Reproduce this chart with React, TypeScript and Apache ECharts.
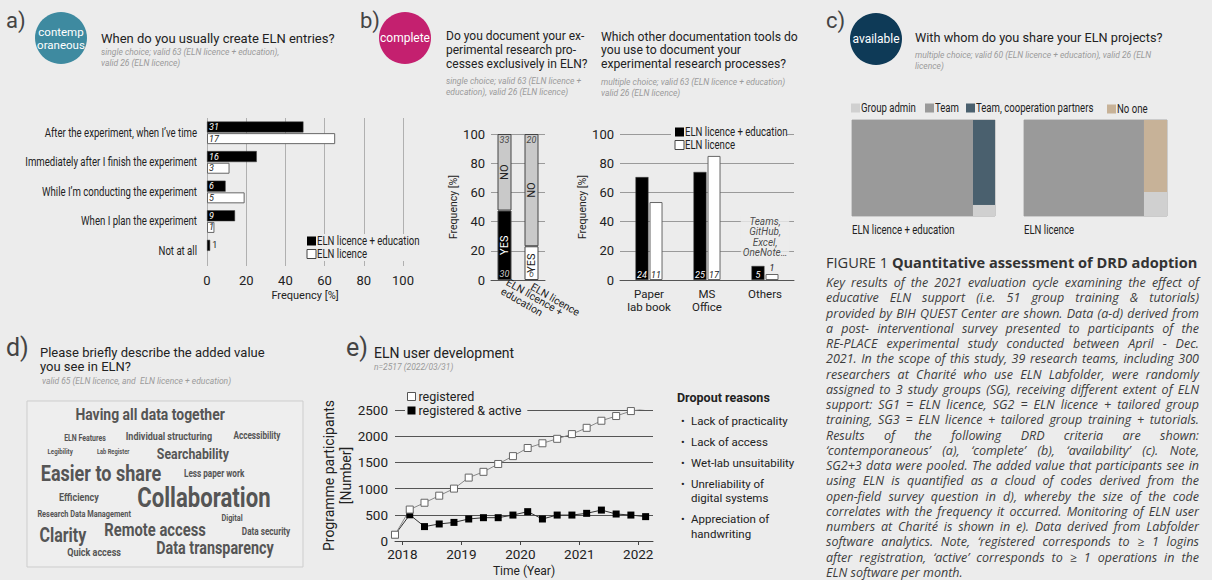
import React, { useEffect, useRef } from "react";
import * as echarts from "echarts";

const BG = "#ececec";
const SANS = "Roboto, 'Noto Sans', sans-serif";
const CAP = "'Open Sans'";
const COND = 0.8; // horizontal squeeze used to imitate the condensed face of the original

// ---------- a) contemporaneous ----------
const aCategories = [
  "After the experiment, when I\u2019ve time",
  "Immediately after I finish the experiment",
  "While I\u2019m conducting the experiment",
  "When I plan the experiment",
  "Not at all",
];
const aEduPct = [49.2, 25.4, 9.5, 14.3, 1.6];
const aEduN = [31, 16, 6, 9, 1];
const aLicPct = [65.4, 11.5, 19.2, 3.8, 0];
const aLicN = [17, 3, 5, 1, null];
const seriesNames = ["ELN licence + education", "ELN licence"];

// ---------- b) complete ----------
const b1Categories = ["ELN licence +\neducation", "ELN licence"];
const b1YesPct = [47.6, 23.1];
const b1NoPct = [52.4, 76.9];
const b1YesN = [30, 6];
const b1NoN = [33, 20];

const b2Categories = ["Paper\nlab book", "MS\nOffice", "Others"];
const b2EduPct = [70.5, 74.0, 9.6];
const b2EduN = [24, 25, 5];
const b2LicPct = [53.4, 85.0, 4.1];
const b2LicN = [11, 17, 1];
const b2OthersNote = "Teams,\nGitHub,\nExcel,\nOneNote\u2026";
const b2NoteValue = 29.5;

// ---------- c) available ----------
const cGroups = ["ELN licence + education", "ELN licence"];
const cTeamShare = [84.6, 83.9];
const cRestName = ["Team, cooperation partners", "No one"];
const cAdminShareOfRest = [11.5, 25];
const cLegend = ["Group admin", "Team", "Team, cooperation partners", "No one"];

// ---------- d) word cloud ----------
const dWords = [
  "Having all data together", "ELN Features", "Individual structuring", "Accessibility",
  "Legibility", "Lab Register", "Searchability", "Easier to share", "Less paper work",
  "Efficiency", "Collaboration", "Research Data Management", "Digital", "Clarity",
  "Remote access", "Data security", "Quick access", "Data transparency",
];
const dWeights = [17, 8.5, 11, 10, 7.5, 7, 15, 22, 10, 11, 27, 9, 9, 19.5, 18, 10, 11, 17.5];
const dLayoutX = [44.6, 21, 51.4, 83.3, 12, 31.2, 60.1, 26.8, 67.8, 18.8, 64.1, 20.7, 74.3, 13, 46.4, 86.6, 24.3, 68.1];
const dLayoutY = [91.6, 77.7, 78.9, 78.9, 69.3, 69.3, 68.1, 56.6, 56, 42.2, 41.6, 31.9, 29.5, 19.3, 22.3, 21.1, 9, 11.4];

// ---------- e) user development ----------
const eMonths = [
  "2017-11", "2018-02", "2018-05", "2018-08", "2018-11", "2019-02", "2019-05", "2019-08", "2019-11",
  "2020-02", "2020-05", "2020-08", "2020-11", "2021-02", "2021-05", "2021-08", "2021-11", "2022-02",
];
const eRegistered = [120, 600, 730, 865, 1000, 1210, 1320, 1470, 1620, 1775, 1865, 1950, 2040, 2160, 2295, 2385, 2480, 2530];
const eActive = [120, 500, 275, 325, 355, 420, 445, 445, 495, 560, 420, 495, 495, 528, 590, 515, 495, 465];
const eYears = [2018, 2019, 2020, 2021, 2022];
const eDropout = ["Lack of practicality", "Lack of access", "Wet-lab unsuitability", "Unreliability of\ndigital systems", "Appreciation of\nhandwriting"];

const captionLines = [
  "Key results of the 2021 evaluation cycle examining the effect of",
  "educative ELN support (i.e. 51 group training & tutorials)",
  "provided by BIH QUEST Center are shown. Data (a-d) derived from",
  "a post- interventional survey presented to participants of the",
  "RE-PLACE experimental study conducted between April - Dec.",
  "2021. In the scope of this study, 39 research teams, including 300",
  "researchers at Charit\u00e9 who use ELN Labfolder, were randomly",
  "assigned to 3 study groups (SG), receiving different extent of ELN",
  "support: SG1 = ELN licence, SG2 = ELN licence + tailored group",
  "training, SG3 = ELN licence + tailored group training + tutorials.",
  "Results of the following DRD criteria are shown:",
  "\u2018contemporaneous\u2019 (a), \u2018complete\u2019 (b), \u2018availability\u2019 (c). Note,",
  "SG2+3 data were pooled. The added value that participants see in",
  "using ELN is quantified as a cloud of codes derived from the",
  "open-field survey question in d), whereby the size of the code",
  "correlates with the frequency it occurred. Monitoring of ELN user",
  "numbers at Charit\u00e9 is shown in e). Data derived from Labfolder",
  "software analytics. Note, \u2018registered corresponds to \u2265 1 logins",
  "after registration, \u2018active\u2019 corresponds to \u2265 1 operations in the",
  "ELN software per month.",
];

const cColors: Record<string, string> = {
  "Group admin": "#d0d0d0",
  Team: "#9a9a9a",
  "Team, cooperation partners": "#4a606e",
  "No one": "#c7b298",
};

const toYear = (m: string) => {
  const [y, mo] = m.split("-").map(Number);
  return y + (mo - 0.5) / 12;
};

const txt = (x: number, y: number, text: string, o: any = {}) => ({
  type: "text",
  x,
  y,
  silent: true,
  style: { text, fontFamily: SANS, fontSize: 13, fill: "#222", textVerticalAlign: "middle", ...o },
});
const ctxt = (x: number, y: number, text: string, o: any = {}) => ({ ...txt(x, y, text, { fontSize: 12, ...o }), scaleX: COND });
const swatch = (x: number, y: number, fill: string, stroke?: string) => ({
  type: "rect",
  silent: true,
  shape: { x, y: y - 4.5, width: 9, height: 9 },
  style: { fill, stroke: stroke || fill, lineWidth: stroke ? 1 : 0 },
});

function captionElements() {
  const els: any[] = [];
  const left = 826, right = 1199, top = 282.5, lh = 15.25;
  const ctx = document.createElement("canvas").getContext("2d")!;
  let size = 12.5;
  ctx.font = `italic ${size}px ${CAP}`;
  let maxW = 0;
  captionLines.slice(0, -1).forEach((l) => {
    maxW = Math.max(maxW, ctx.measureText(l).width);
  });
  if (maxW > right - left) size = (size * (right - left)) / maxW;
  ctx.font = `italic ${size}px ${CAP}`;
  const style = { fontFamily: CAP, fontSize: size, fontStyle: "italic", fill: "#3c3c3c", textVerticalAlign: "middle" };
  captionLines.forEach((line, i) => {
    const y = top + i * lh;
    if (i === captionLines.length - 1) {
      els.push({ type: "text", x: left, y, silent: true, style: { ...style, text: line } });
      return;
    }
    const words = line.split(" ").filter(Boolean);
    const widths = words.map((w) => ctx.measureText(w).width);
    const gap = (right - left - widths.reduce((a, b) => a + b, 0)) / (words.length - 1);
    let x = left;
    words.forEach((w, j) => {
      els.push({ type: "text", x, y, silent: true, style: { ...style, text: w } });
      x += widths[j] + gap;
    });
  });
  return els;
}

function rectRenderer(color: string) {
  return (params: any, api: any) => {
    const a = api.coord([api.value(0), api.value(3)]);
    const b = api.coord([api.value(1), api.value(2)]);
    return {
      type: "rect",
      shape: { x: a[0], y: a[1], width: b[0] - a[0], height: b[1] - a[1] },
      style: { fill: color },
    };
  };
}

function buildOption() {
  const hidden = (g: number) => ({ gridIndex: g, type: "value", min: 0, max: 100, show: false });
  const valueY = (g: number, name: string, gap: number) => ({
    gridIndex: g,
    type: "value",
    min: 0,
    max: 100,
    interval: 20,
    name,
    nameLocation: "middle",
    nameGap: gap,
    nameTextStyle: { fontFamily: SANS, fontSize: 10.5, color: "#222" },
    axisLine: { show: false },
    axisTick: { show: false },
    axisLabel: { fontFamily: SANS, fontSize: 13, color: "#222", margin: 6 },
    splitLine: { lineStyle: { color: "#9a9a9a", width: 1 } },
  });

  // c) custom rect series
  const cSeries: any[] = [];
  cGroups.forEach((g, gi) => {
    const t = cTeamShare[gi];
    const adm = cAdminShareOfRest[gi];
    const parts: [string, number[]][] = [
      ["Team", [0, t, 0, 100]],
      [cRestName[gi], [t, 100, adm, 100]],
      ["Group admin", [t, 100, 0, adm]],
    ];
    parts.forEach(([name, r]) => {
      cSeries.push({
        name,
        type: "custom",
        xAxisIndex: 3 + gi,
        yAxisIndex: 3 + gi,
        silent: true,
        itemStyle: { color: cColors[name] },
        renderItem: rectRenderer(cColors[name]),
        data: [r],
      });
    });
  });

  const blackItem = { color: "#000", borderColor: "#444", borderWidth: 0.5 };
  const whiteItem = { color: "#fff", borderColor: "#666", borderWidth: 1 };
  const countLabel = { fontFamily: SANS, fontSize: 9, fontStyle: "italic" };

  const graphics: any[] = [
    // a)
    txt(6, 20, "a)", { fontSize: 22, fill: "#444" }),
    { type: "circle", shape: { cx: 61, cy: 38, r: 26 }, style: { fill: "#3e8aa0" }, silent: true },
    txt(61, 38.5, "contemp\noraneous", { fontSize: 11.5, fill: "#fff", textAlign: "center", lineHeight: 13 }),
    txt(101, 38, "When do you usually create ELN entries?", { fontSize: 13 }),
    txt(101, 47, "single choice; valid 63 (ELN licence + education),\nvalid 26 (ELN licence)", {
      fontSize: 8.5, fontStyle: "italic", fill: "#9a9a9a", lineHeight: 10.5, textVerticalAlign: "top",
    }),
    { type: "rect", silent: true, shape: { x: 304, y: 234, width: 118, height: 27 }, style: { fill: BG } },
    swatch(307, 241, "#000"),
    ctxt(317, 241, seriesNames[0]),
    swatch(307, 254, "#fff", "#444"),
    ctxt(317, 254, seriesNames[1]),
    // b)
    txt(360, 20, "b)", { fontSize: 22, fill: "#444" }),
    { type: "circle", shape: { cx: 405, cy: 38, r: 26 }, style: { fill: "#c4206f" }, silent: true },
    txt(405, 38, "complete", { fontSize: 12, fill: "#fff", textAlign: "center" }),
    txt(446, 29, "Do you document your ex-\nperimental research pro-\ncesses exclusively in ELN?", {
      fontSize: 12, lineHeight: 14, textVerticalAlign: "top",
    }),
    txt(446, 75, "single choice; valid 63 (ELN licence +\neducation), valid 26 (ELN licence)", {
      fontSize: 8.5, fontStyle: "italic", fill: "#9a9a9a", lineHeight: 11.5, textVerticalAlign: "top",
    }),
    txt(601, 30, "Which other documentation tools do\nyou use to document your\nexperimental research processes?", {
      fontSize: 12.2, lineHeight: 13.5, textVerticalAlign: "top",
    }),
    txt(601, 76, "multiple choice; valid 63 (ELN licence + education)\nvalid 26 (ELN licence)", {
      fontSize: 8.5, fontStyle: "italic", fill: "#9a9a9a", lineHeight: 11, textVerticalAlign: "top",
    }),
    { type: "rect", silent: true, shape: { x: 671, y: 125, width: 116, height: 27 }, style: { fill: BG } },
    swatch(675, 132, "#000"),
    ctxt(685, 132, seriesNames[0]),
    swatch(675, 145, "#fff", "#444"),
    ctxt(685, 145, seriesNames[1]),
    // c)
    txt(826, 20, "c)", { fontSize: 22, fill: "#444" }),
    { type: "circle", shape: { cx: 876, cy: 39, r: 26 }, style: { fill: "#0e3a57" }, silent: true },
    txt(876, 39, "available", { fontSize: 12, fill: "#fff", textAlign: "center" }),
    txt(915, 37, "With whom do you share your ELN projects?", { fontSize: 12.7 }),
    txt(915, 49, "multiple choice; valid 60 (ELN licence + education), valid 26 (ELN\nlicence)", {
      fontSize: 8.5, fontStyle: "italic", fill: "#9a9a9a", lineHeight: 11, textVerticalAlign: "top",
    }),
    swatch(851, 108, cColors[cLegend[0]]),
    ctxt(861, 108, cLegend[0]),
    swatch(925, 108, cColors[cLegend[1]]),
    ctxt(935, 108, cLegend[1]),
    swatch(966, 108, cColors[cLegend[2]]),
    ctxt(976, 108, cLegend[2]),
    swatch(1107, 109, cColors[cLegend[3]]),
    ctxt(1117, 109, cLegend[3]),
    ctxt(852, 230, cGroups[0]),
    ctxt(1024, 230, cGroups[1]),
    // caption
    {
      type: "text",
      x: 826,
      y: 262,
      silent: true,
      style: {
        text: "{a|FIGURE 1 }{b|Quantitative assessment of DRD adoption}",
        textVerticalAlign: "middle",
        rich: {
          a: { fontFamily: CAP, fontSize: 14.6, fill: "#333" },
          b: { fontFamily: CAP, fontSize: 14.6, fontWeight: "bold", fill: "#333" },
        },
      },
    },
    ...captionElements(),
    // d)
    txt(6, 347, "d)", { fontSize: 25, fill: "#444" }),
    txt(40, 352, "Please briefly describe the added value", { fontSize: 13 }),
    txt(40, 366, "you see in ELN?", { fontSize: 13 }),
    txt(42, 381, "valid 65 (ELN licence, and  ELN licence + education)", {
      fontSize: 8.5, fontStyle: "italic", fill: "#9a9a9a",
    }),
    // e)
    txt(346, 347, "e)", { fontSize: 25, fill: "#444" }),
    txt(374, 353, "ELN user development", { fontSize: 14 }),
    txt(374, 367, "n=2517 (2022/03/31)", { fontSize: 8.5, fontStyle: "italic", fill: "#9a9a9a" }),
    txt(677, 397, "Dropout reasons", { fontSize: 12.5, fontWeight: "bold" }),
  ];
  let dy = 421;
  eDropout.forEach((d) => {
    graphics.push(txt(681, dy, "\u2022", { fontSize: 11 }));
    const t: any = txt(691, dy - 7.5, d, { fontSize: 11.5, lineHeight: 14.5, textVerticalAlign: "top" });
    graphics.push(t);
    dy += 21 + (d.split("\n").length - 1) * 14.5;
  });
  const graphicEls = graphics.map((e) => ({ z: 100, ...e }));

  return {
    animation: false,
    backgroundColor: BG,
    textStyle: { fontFamily: SANS },
    grid: [
      { left: 207, top: 118, width: 196, height: 148, outerBoundsMode: "none" },
      { left: 491, top: 134, width: 54, height: 146, outerBoundsMode: "none" },
      { left: 620, top: 134, width: 174, height: 146, outerBoundsMode: "none" },
      { left: 852, top: 120, width: 143, height: 96, show: true, borderColor: "#aaa", borderWidth: 1, backgroundColor: "transparent", outerBoundsMode: "none" },
      { left: 1024, top: 120, width: 143, height: 96, show: true, borderColor: "#aaa", borderWidth: 1, backgroundColor: "transparent", outerBoundsMode: "none" },
      { left: 27, top: 401, width: 276, height: 166, show: true, borderColor: "#cdcdcd", borderWidth: 1, backgroundColor: "#eeeeee", outerBoundsMode: "none" },
      { left: 395, top: 410, width: 258, height: 131, outerBoundsMode: "none" },
    ],
    xAxis: [
      {
        gridIndex: 0, type: "value", min: 0, max: 100, interval: 20,
        name: "Frequency [%]", nameLocation: "middle", nameGap: 24,
        nameTextStyle: { fontFamily: SANS, fontSize: 11, color: "#222" },
        axisLine: { show: false }, axisTick: { show: false },
        axisLabel: { fontFamily: SANS, fontSize: 13, color: "#222", margin: 8 },
        splitLine: { lineStyle: { color: "#b0b0b0" } },
      },
      {
        gridIndex: 1, type: "category", data: b1Categories,
        axisLine: { lineStyle: { color: "#555" } }, axisTick: { show: false },
        axisLabel: { interval: 0, rotate: -30, fontFamily: SANS, fontSize: 10.5, lineHeight: 10.5, color: "#222", margin: 6 },
      },
      {
        gridIndex: 2, type: "category", data: b2Categories,
        axisLine: { lineStyle: { color: "#555" } }, axisTick: { show: false },
        axisLabel: { interval: 0, fontFamily: SANS, fontSize: 11.5, lineHeight: 13, color: "#222", margin: 7 },
      },
      hidden(3),
      hidden(4),
      hidden(5),
      {
        gridIndex: 6, type: "value", min: toYear("2017-11"), max: 2022.25,
        name: "Time (Year)", nameLocation: "middle", nameGap: 24,
        nameTextStyle: { fontFamily: SANS, fontSize: 12, color: "#222" },
        axisLine: { lineStyle: { color: "#444" } },
        axisTick: { customValues: eYears, length: 4, lineStyle: { color: "#444" } },
        axisLabel: { customValues: eYears, formatter: (v: number) => String(Math.round(v)), fontFamily: SANS, fontSize: 13.5, color: "#222", margin: 6 },
        splitLine: { show: false },
      },
    ],
    yAxis: [
      {
        gridIndex: 0, type: "category", inverse: true, data: aCategories,
        axisLine: { show: false }, axisTick: { show: false },
        axisLabel: { show: false },
      },
      valueY(1, "Frequency [%]", 32),
      valueY(2, "Frequency [%]", 30),
      hidden(3),
      hidden(4),
      hidden(5),
      {
        gridIndex: 6, type: "value", min: 0, max: 2500, interval: 500,
        name: "Programme participants\n[Number]", nameLocation: "middle", nameGap: 37,
        nameTextStyle: { fontFamily: SANS, fontSize: 14, lineHeight: 16.5, color: "#222" },
        axisLine: { show: false }, axisTick: { show: false },
        axisLabel: { formatter: (v: number) => String(v), fontFamily: SANS, fontSize: 13.5, color: "#222", margin: 7 },
        splitLine: { lineStyle: { color: "#555", width: 1 } },
      },
    ],
    legend: [
      {
        left: 405, top: 390, orient: "vertical", itemGap: 1, itemWidth: 8, itemHeight: 8, icon: "rect", padding: [0, 6, 0, 2],
        selectedMode: false, backgroundColor: BG,
        textStyle: { fontFamily: SANS, fontSize: 12.5, color: "#222", padding: [0, 0, 0, -2] },
        data: [
          { name: "registered", itemStyle: { color: "#fff", borderColor: "#555", borderWidth: 1 } },
          { name: "registered & active", itemStyle: { color: "#000" } },
        ],
      },
    ],
    series: [
      // a) category labels drawn through the category scale (condensed look)
      {
        name: "a-labels", type: "custom", xAxisIndex: 0, yAxisIndex: 0, silent: true, clip: false,
        data: aCategories.map((c, i) => [0, i]),
        renderItem: (params: any, api: any) => {
          const p = api.coord([api.value(0), api.value(1)]);
          return {
            type: "text", x: p[0] - 10, y: p[1], scaleX: COND,
            style: { text: aCategories[params.dataIndex], fontFamily: SANS, fontSize: 12, fill: "#222", textAlign: "right", textVerticalAlign: "middle" },
          };
        },
      },
      {
        name: seriesNames[0], type: "bar", xAxisIndex: 0, yAxisIndex: 0,
        barWidth: 11, barGap: "6%",
        itemStyle: blackItem,
        data: aEduPct.map((v) => (v < 5 ? { value: v, label: { position: "right", color: "#222", fontStyle: "normal" } } : v)),
        label: { show: true, position: "insideLeft", distance: 2, formatter: (p: any) => String(aEduN[p.dataIndex]), color: "#fff", ...countLabel },
      },
      {
        name: seriesNames[1], type: "bar", xAxisIndex: 0, yAxisIndex: 0,
        barWidth: 11,
        itemStyle: whiteItem,
        data: aLicPct.map((v, i) => (aLicN[i] == null ? { value: v, label: { show: false }, itemStyle: { borderWidth: 0 } } : v)),
        label: { show: true, position: "insideLeft", distance: 2, formatter: (p: any) => String(aLicN[p.dataIndex]), color: "#222", ...countLabel },
      },
      // b) left
      {
        name: "YES", type: "bar", stack: "b1", xAxisIndex: 1, yAxisIndex: 1, barWidth: 14,
        itemStyle: { borderColor: "#444", borderWidth: 1 },
        data: b1YesPct.map((v, i) => ({
          value: v,
          itemStyle: { color: i === 0 ? "#000" : "#fff" },
          label: { color: i === 0 ? "#fff" : "#222" },
        })),
        label: { show: true, position: "inside", rotate: 90, formatter: "YES", fontFamily: SANS, fontSize: 11 },
      },
      {
        name: "NO", type: "bar", stack: "b1", xAxisIndex: 1, yAxisIndex: 1, barWidth: 14,
        itemStyle: { color: "#c9c9c9", borderColor: "#444", borderWidth: 1 },
        data: b1NoPct,
        label: { show: true, position: "inside", rotate: 90, formatter: "NO", color: "#222", fontFamily: SANS, fontSize: 11 },
      },
      {
        name: "b1-yes-n", type: "scatter", xAxisIndex: 1, yAxisIndex: 1, symbolSize: 1, silent: true,
        itemStyle: { color: "transparent" },
        data: b1YesN.map((n, i) => ({ value: [i, 0], label: { formatter: String(n), color: i === 0 ? "#fff" : "#222" } })),
        label: { show: true, position: "top", distance: 1, ...countLabel },
      },
      {
        name: "b1-no-n", type: "scatter", xAxisIndex: 1, yAxisIndex: 1, symbolSize: 1, silent: true,
        itemStyle: { color: "transparent" },
        data: b1NoN.map((n, i) => ({ value: [i, 100], label: { formatter: String(n), color: "#222" } })),
        label: { show: true, position: "bottom", distance: 1, ...countLabel },
      },
      // b) right
      {
        name: seriesNames[0], type: "bar", xAxisIndex: 2, yAxisIndex: 2, barWidth: 13, barGap: "8%",
        itemStyle: blackItem,
        data: b2EduPct,
        label: { show: true, position: "insideBottom", distance: 1, formatter: (p: any) => String(b2EduN[p.dataIndex]), color: "#fff", ...countLabel },
      },
      {
        name: seriesNames[1], type: "bar", xAxisIndex: 2, yAxisIndex: 2, barWidth: 13,
        itemStyle: whiteItem,
        data: b2LicPct.map((v) => (v < 8 ? { value: v, label: { position: "top", distance: 2 } } : v)),
        label: { show: true, position: "insideBottom", distance: 1, formatter: (p: any) => String(b2LicN[p.dataIndex]), color: "#222", ...countLabel },
      },
      {
        name: "b2-note", type: "scatter", xAxisIndex: 2, yAxisIndex: 2, symbolSize: 1, silent: true,
        itemStyle: { color: "transparent" },
        data: [[2, b2NoteValue]],
        label: {
          show: true, position: "inside", formatter: b2OthersNote, color: "#222",
          fontFamily: SANS, fontSize: 10, fontStyle: "italic", lineHeight: 10.5,
          backgroundColor: BG, padding: [0, 2],
        },
      },
      // c)
      ...cSeries,
      // d) word cloud through the hidden value scales
      {
        name: "words", type: "custom", xAxisIndex: 5, yAxisIndex: 5, silent: true, clip: false,
        data: dWords.map((w, i) => [dLayoutX[i], dLayoutY[i]]),
        renderItem: (params: any, api: any) => {
          const i = params.dataIndex;
          const p = api.coord([api.value(0), api.value(1)]);
          return {
            type: "text", x: p[0], y: p[1], scaleX: 0.82,
            style: { text: dWords[i], fontFamily: SANS, fontSize: dWeights[i], fontWeight: "bold", fill: "#555", textAlign: "center", textVerticalAlign: "middle" },
          };
        },
      },
      // e)
      {
        name: "registered & active", type: "line", xAxisIndex: 6, yAxisIndex: 6,
        data: eMonths.map((m, i) => [toYear(m), eActive[i]]),
        symbol: "rect", symbolSize: 7,
        lineStyle: { color: "#333", width: 1 },
        itemStyle: { color: "#000" },
      },
      {
        name: "registered", type: "line", xAxisIndex: 6, yAxisIndex: 6, z: 3,
        data: eMonths.map((m, i) => [toYear(m), eRegistered[i]]),
        symbol: "rect", symbolSize: 7,
        lineStyle: { color: "#888", width: 1 },
        itemStyle: { color: "#fff", borderColor: "#666", borderWidth: 1 },
      },
    ],
    graphic: { elements: graphicEls },
  };
}

export default function App() {
  const ref = useRef<HTMLDivElement>(null);
  useEffect(() => {
    document.body.style.margin = "0";
    document.body.style.background = BG;
    const chart = echarts.init(ref.current!, null, { renderer: "svg" });
    chart.setOption(buildOption() as any);
    return () => chart.dispose();
  }, []);
  return <div ref={ref} style={{ width: 1212, height: 580, background: BG }} />;
}
